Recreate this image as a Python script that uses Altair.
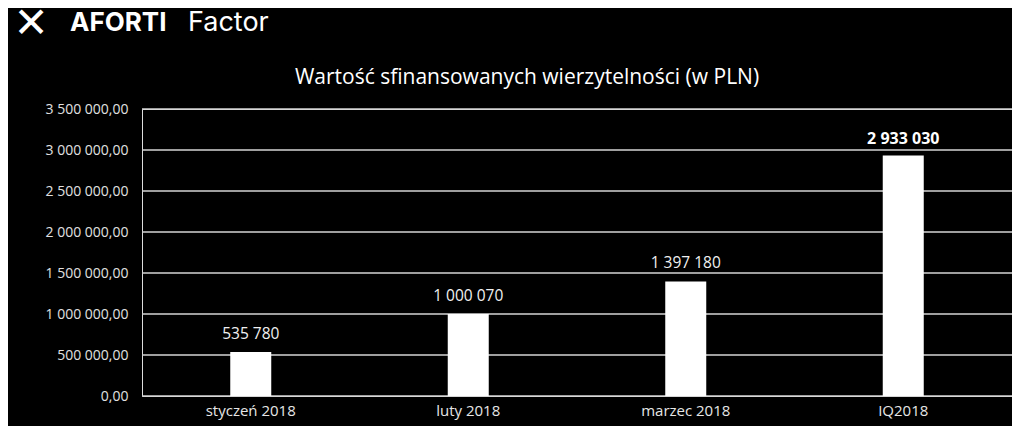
import altair as alt
import pandas as pd

categories = ["styczeń 2018", "luty 2018", "marzec 2018", "IQ2018"]
values = [535780, 1000070, 1397180, 2933030]
bold_flags = [False, False, False, True]
tick_values = [0, 500000, 1000000, 1500000, 2000000, 2500000, 3000000, 3500000]
title_text = "Wartość sfinansowanych wierzytelności (w PLN)"

df = pd.DataFrame({"cat": categories, "val": values, "bold": bold_flags})
grid_df = pd.DataFrame({"val": tick_values})

x = alt.X("cat:N", sort=categories, title=None,
          axis=alt.Axis(labelAngle=0, labelFont="Open Sans", labelFontSize=15,
                        labelColor="#e6e6e6", labelPadding=7, domain=False, ticks=False, grid=False))
y = alt.Y("val:Q", title=None,
          scale=alt.Scale(domain=[0, 3500000], nice=False),
          axis=alt.Axis(values=tick_values,
                        format=",.2f", labelFont="Open Sans", labelFontSize=14,
                        labelColor="#e0e0e0", labelPadding=14, domain=False, ticks=False,
                        grid=False))

grid = alt.Chart(grid_df).mark_rule(color="#d4d4d4", strokeWidth=1.5).encode(y=y)

bars = alt.Chart(df).mark_bar(color="white", size=41).encode(x=x, y=y)

labels_normal = alt.Chart(df).transform_filter("!datum.bold").mark_text(
    font="Open Sans", fontSize=15.5, color="#f0f0f0", dy=-10, baseline="bottom"
).encode(x=x, y=y, text=alt.Text("val:Q", format=",d"))

labels_bold = alt.Chart(df).transform_filter("datum.bold").mark_text(
    font="Open Sans", fontSize=16, fontWeight="bold", color="white", dy=-8, baseline="bottom"
).encode(x=x, y=y, text=alt.Text("val:Q", format=",d"))

text_df = pd.DataFrame({"t": ["AFORTI"], "f": ["Factor"], "s": ["✕"], "title": [title_text]})
logo1 = alt.Chart(text_df).mark_text(
    font="Inter", fontSize=26, fontWeight="bold", color="white", align="left", baseline="middle"
).encode(x=alt.value(-72), y=alt.value(-86), text="t:N")
logo2 = alt.Chart(text_df).mark_text(
    font="Inter", fontSize=27, color="white", align="left", baseline="middle"
).encode(x=alt.value(46), y=alt.value(-86), text="f:N")
logo3 = alt.Chart(text_df).mark_text(
    font="DejaVu Sans", fontSize=42, fontWeight="bold", color="white", align="center", baseline="middle"
).encode(x=alt.value(-111), y=alt.value(-85), text="s:N")
title = alt.Chart(text_df).mark_text(
    font="Open Sans", fontSize=21, color="white", align="center", baseline="middle"
).encode(x=alt.value(385), y=alt.value(-31), text="title:N")

chart = alt.layer(grid, bars, labels_normal, labels_bold, logo1, logo2, logo3, title).properties(
    width=870, height=287,
    autosize=alt.AutoSizeParams(type="none"),
    padding={"left": 134, "top": 101, "right": 0, "bottom": 30},
    background="black",
).configure_view(stroke="black", fill="black", strokeWidth=0).configure_axis(
    domain=False, ticks=False
).configure_scale(
    bandPaddingInner=0.81, bandPaddingOuter=0.405
).configure(
    locale=alt.Locale(number=alt.NumberLocale(decimal=",", thousands=" ", grouping=[3], currency=["", " zł"]))
)

chart.save("out.html", embed_options={"renderer": "svg", "actions": False})
